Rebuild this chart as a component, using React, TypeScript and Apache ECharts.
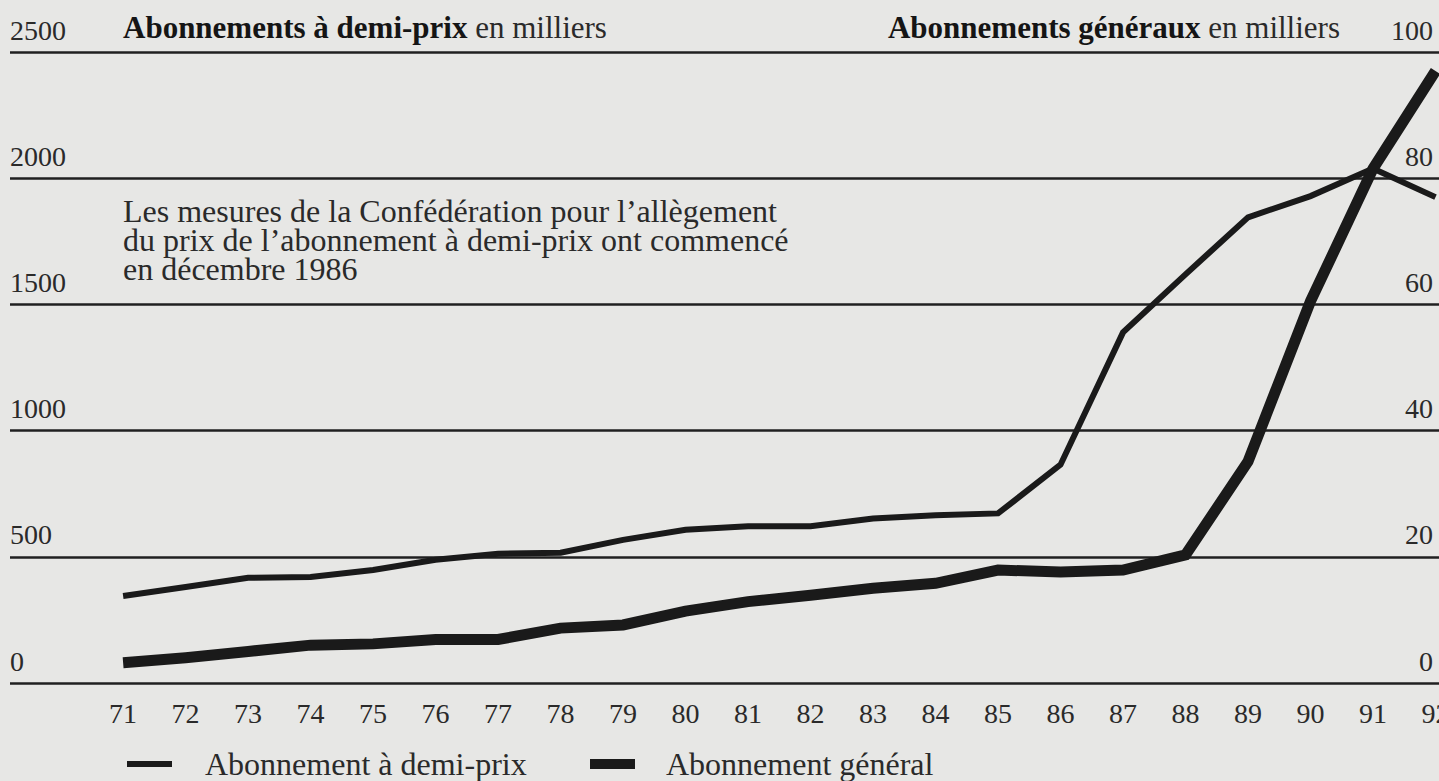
import React, { useEffect, useRef } from "react";
import * as echarts from "echarts";

const years = [71, 72, 73, 74, 75, 76, 77, 78, 79, 80, 81, 82, 83, 84, 85, 86, 87, 88, 89, 90, 91, 92];
const halfPrice = [345, 380, 417, 420, 448, 488, 512, 516, 567, 607, 621, 621, 652, 665, 672, 865, 1389, 1619, 1845, 1929, 2038, 1925];
const general = [3.2, 4.0, 5.0, 6.0, 6.2, 6.9, 6.9, 8.7, 9.2, 11.4, 12.9, 13.9, 15.0, 15.8, 17.9, 17.6, 17.9, 20.3, 35.1, 60.5, 81.5, 97];

const nameHalf = "Abonnement à demi-prix";
const nameGen = "Abonnement général";
const FONT = "'Liberation Serif', 'Times New Roman', serif";
const INK = "#1a1a1a";
const TXT = "#2a2a2a";
const NUM = 28;

export default function App() {
  const ref = useRef<HTMLDivElement>(null);
  useEffect(() => {
    if (!ref.current) return;
    const chart = echarts.init(ref.current, null, { renderer: "svg" });
    chart.setOption({
      animation: false,
      backgroundColor: "#e7e7e5",
      textStyle: { fontFamily: FONT, color: TXT },
      grid: { left: 10, right: 0, top: 52, bottom: 98, outerBoundsMode: "none", containLabel: false },
      xAxis: {
        type: "value",
        min: 69.19,
        max: 92.056,
        axisLine: { show: false },
        axisTick: { show: false },
        splitLine: { show: false },
        axisLabel: {
          customValues: years,
          fontSize: NUM,
          color: TXT,
          fontFamily: FONT,
          margin: 16,
          formatter: (v: number) => String(v),
        },
      },
      yAxis: [
        {
          type: "value",
          min: 0,
          max: 2500,
          interval: 500,
          position: "left",
          axisLine: { show: false },
          axisTick: { show: false },
          splitLine: { show: true, lineStyle: { color: "#202020", width: 2.5 } },
          axisLabel: {
            inside: true,
            margin: 0,
            align: "left",
            verticalAlign: "bottom",
            padding: [0, 0, 8, 0],
            fontSize: NUM,
            color: TXT,
            fontFamily: FONT,
            formatter: (v: number) => String(v),
          },
        },
        {
          type: "value",
          min: 0,
          max: 100,
          interval: 20,
          position: "right",
          axisLine: { show: false },
          axisTick: { show: false },
          splitLine: { show: false },
          axisLabel: {
            inside: true,
            margin: 6,
            align: "right",
            verticalAlign: "bottom",
            padding: [0, 0, 8, 0],
            fontSize: NUM,
            color: TXT,
            fontFamily: FONT,
            formatter: (v: number) => String(v),
          },
        },
      ],
      legend: [
        {
          data: [{ name: nameHalf, icon: "rect" }],
          left: 127,
          top: 748,
          padding: 0,
          itemWidth: 45,
          itemHeight: 6,
          textStyle: { fontSize: 32, color: TXT, fontFamily: FONT, padding: [0, 0, 0, 28] },
        },
        {
          data: [{ name: nameGen, icon: "rect" }],
          left: 590,
          top: 748,
          padding: 0,
          itemWidth: 45,
          itemHeight: 10,
          textStyle: { fontSize: 32, color: TXT, fontFamily: FONT, padding: [0, 0, 0, 26] },
        },
      ],
      graphic: [
        {
          type: "text",
          x: 123,
          y: 27,
          style: {
            text: "{b|Abonnements à demi-prix}{n| en milliers}",
            verticalAlign: "middle",
            align: "left",
            fill: TXT,
            rich: {
              b: { fontWeight: "bold", fontSize: 31, fontFamily: FONT, fill: "#151515" },
              n: { fontSize: 31, fontFamily: FONT, fill: TXT },
            },
          },
        },
        {
          type: "text",
          x: 1340,
          y: 27,
          style: {
            text: "{b|Abonnements généraux}{n| en milliers}",
            verticalAlign: "middle",
            align: "right",
            fill: TXT,
            rich: {
              b: { fontWeight: "bold", fontSize: 31, fontFamily: FONT, fill: "#151515" },
              n: { fontSize: 31, fontFamily: FONT, fill: TXT },
            },
          },
        },
        {
          type: "text",
          x: 123,
          y: 240,
          style: {
            text:
              "Les mesures de la Confédération pour l’allègement\ndu prix de l’abonnement à demi-prix ont commencé\nen décembre 1986",
            fontSize: 32,
            lineHeight: 29,
            fontFamily: FONT,
            fill: TXT,
            verticalAlign: "middle",
          },
        },
      ],
      series: [
        {
          name: nameHalf,
          type: "line",
          yAxisIndex: 0,
          data: years.map((y, i) => [y, halfPrice[i]]),
          showSymbol: false,
          clip: false,
          lineStyle: { color: INK, width: 6, join: "miter" },
          itemStyle: { color: INK },
          z: 3,
        },
        {
          name: nameGen,
          type: "line",
          yAxisIndex: 1,
          data: years.map((y, i) => [y, general[i]]),
          showSymbol: false,
          clip: false,
          lineStyle: { color: INK, width: 11, join: "miter" },
          itemStyle: { color: INK },
          z: 4,
        },
      ],
    });
    return () => chart.dispose();
  }, []);
  return (
    <div style={{ position: "absolute", left: 0, top: 0, width: 1439, height: 781, overflow: "hidden" }}>
      <div ref={ref} style={{ width: 1439, height: 781 }} />
    </div>
  );
}
